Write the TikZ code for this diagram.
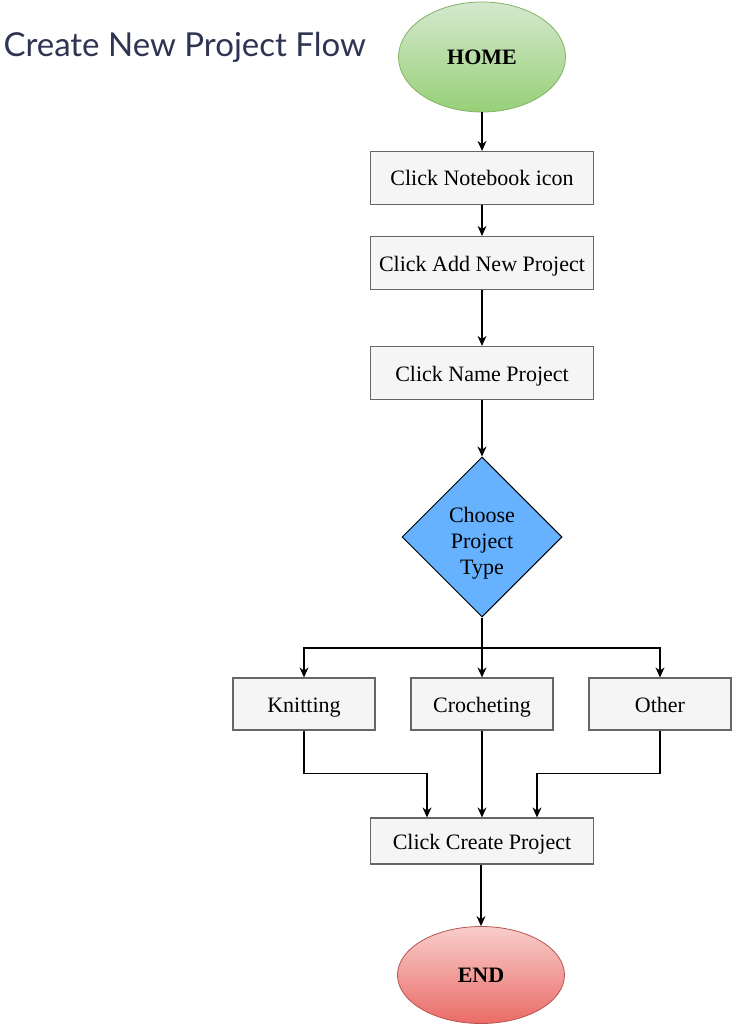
\documentclass[tikz,border=0pt]{standalone}
\usepackage{fontspec}
\setmainfont{Liberation Serif}
\newfontfamily\titlefont{Lato}
\usetikzlibrary{shapes.geometric,arrows.meta}

\definecolor{titleblue}{RGB}{46,52,82}
\definecolor{boxfill}{RGB}{245,245,245}
\definecolor{boxline}{RGB}{102,102,102}
\definecolor{choosefill}{RGB}{102,178,255}

\begin{document}
\begin{tikzpicture}[x=1pt,y=-1pt,
  font=\fontsize{22}{26}\selectfont,
  stepbox/.style={draw=boxline,fill=boxfill,line width=1.2pt,minimum width=223pt,minimum height=53pt,inner sep=0pt,text height=18pt,text depth=2pt},
  typebox/.style={stepbox,minimum width=142pt,minimum height=52pt},
  terminal/.style={ellipse,line width=0.8pt,minimum width=167pt,inner sep=0pt,font=\fontsize{22}{26}\selectfont\bfseries},
  flow/.style={line width=1.2pt,-{Stealth[length=10pt,width=9pt]}}]
\useasboundingbox (0,0) rectangle (731,1024);

\node[anchor=west,text=titleblue,font=\titlefont\fontsize{33}{38}\selectfont] (title) at (0,47) {Create New Project Flow};

\node[terminal,minimum height=110pt,draw={rgb,255:red,130;green,179;blue,102},top color={rgb,255:red,213;green,232;blue,207},bottom color={rgb,255:red,151;green,208;blue,119}] (home) at (482,57) {HOME};
\node[stepbox] (notebook) at (482,178) {Click Notebook icon};
\node[stepbox] (addnew) at (482,263) {Click Add New Project};
\node[stepbox] (name) at (482,373) {Click Name Project};
\node[diamond,draw=black,fill=choosefill,line width=1pt,minimum size=160pt,inner sep=0pt] (choose) at (482,537) {};
\node[align=center] (choosetext) at ([yshift=-6pt]choose.center) {Choose\\Project\\Type};

\node[typebox] (knit) at (304,704) {Knitting};
\node[typebox] (crochet) at (482,704) {Crocheting};
\node[typebox] (other) at (660,704) {Other};

\node[stepbox,minimum height=46pt] (create) at (482,841) {Click Create Project};
\node[terminal,minimum height=97pt,draw={rgb,255:red,184;green,84;blue,80},top color={rgb,255:red,248;green,206;blue,204},bottom color={rgb,255:red,234;green,107;blue,102}] (end) at (481,975) {END};

\coordinate (split) at (482,648);

\draw[flow] (home) -- (notebook);
\draw[flow] (notebook) -- (addnew);
\draw[flow] (addnew) -- (name);
\draw[flow] (name) -- (choose);
\draw[line width=1.2pt] (choose.south) -- (split);
\draw[flow] (split) -| (knit.north);
\draw[flow] (split) -- (crochet.north);
\draw[flow] (split) -| (other.north);
\draw[flow] (knit.south) -- ++(0,43) -| ([xshift=-55pt]create.north);
\draw[flow] (crochet) -- (create);
\draw[flow] (other.south) -- ++(0,43) -| ([xshift=55pt]create.north);
\draw[flow] (create.south -| end.north) -- (end.north);
\end{tikzpicture}
\end{document}
